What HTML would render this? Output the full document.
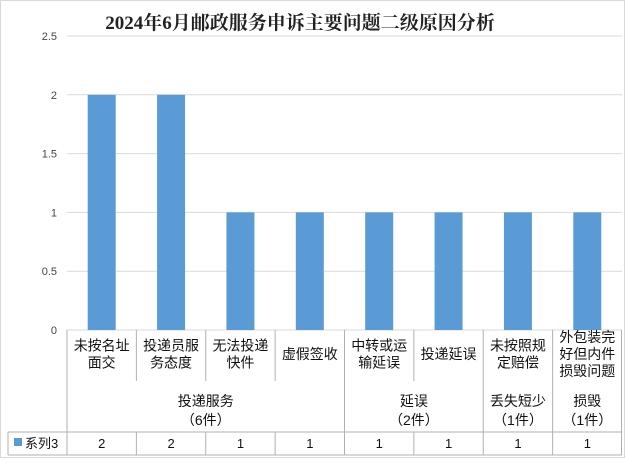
<!DOCTYPE html>
<html><head><meta charset="utf-8"><style>
body{margin:0;background:#fff}
svg text{font-family:"Liberation Sans","Noto Sans CJK SC",sans-serif;}
</style></head><body>
<svg width="625" height="458" viewBox="0 0 625 458">
<rect x="0.5" y="0.5" width="624" height="457" fill="#fff" stroke="#d9d9d9"/>
<text x="300" y="29" text-anchor="middle" font-size="19" font-weight="bold" fill="#222" style='font-family:"Liberation Serif","Noto Serif CJK SC",serif'>2024年6月邮政服务申诉主要问题二级原因分析</text>
<g id="grid"></g><g id="bars"></g><g id="table"></g>
</svg>
<script>
const categories=["未按名址|面交","投递员服|务态度","无法投递|快件","虚假签收","中转或运|输延误","投递延误","未按照规|定赔偿","外包装完|好但内件|损毁问题"];
const values=[2,2,1,1,1,1,1,1];
const ticks=[0,0.5,1,1.5,2,2.5];
const tickLabels=["0","0.5","1","1.5","2","2.5"];
const groupNames=["投递服务","延误","丢失短少","损毁"];
const groupCounts=["（6件）","（2件）","（1件）","（1件）"];
const groupSpans=[4,2,1,1];
const NS="http://www.w3.org/2000/svg";
const X0=67,X1=622,Y0=330,Y1=36,YMAX=2.5;
const cw=(X1-X0)/categories.length;
const y=v=>Y0-(v/YMAX)*(Y0-Y1);
const x=i=>X0+i*cw;
function mk(t,a,p){const e=document.createElementNS(NS,t);for(const k in a)e.setAttribute(k,a[k]);p.appendChild(e);return e;}
const grid=document.getElementById('grid'),bars=document.getElementById('bars'),tb=document.getElementById('table');
ticks.forEach((t,i)=>{
 const l=mk('line',{x1:X0,x2:X1,y1:y(t),y2:y(t),stroke:'#d9d9d9'},grid);
 
 
 const tx=mk('text',{x:57,y:y(t)+4,'text-anchor':'end','font-size':11,fill:'#444'},grid);
 tx.textContent=tickLabels[i];
 
 
});
values.forEach((v,i)=>{
 const r=mk('rect',{x:x(i)+cw/2-14,y:y(v),width:28,height:Y0-y(v),fill:'#5b9bd5'},bars);
 
 
});
const S='#b0b0b0';
function ln(a,b,c,d){mk('line',{x1:a,y1:b,x2:c,y2:d,stroke:S},tb);}
ln(X1-0.5,Y0,X1-0.5,455);ln(8,455,X1,455);ln(8,432,X1,432);ln(8,432,8,455);
ln(X0,Y0,X0,455);
let acc=0;const bounds=new Set();
groupSpans.forEach(g=>{acc+=g;bounds.add(acc);});
for(let i=1;i<categories.length;i++){
 if(bounds.has(i)) ln(x(i),Y0,x(i),455); else {ln(x(i),Y0,x(i),381);ln(x(i),432,x(i),455);}
}
categories.forEach((c,i)=>{
 const lines=c.split('|');const cx=x(i)+cw/2;
 const start=359-(lines.length-1)*8.5;
 lines.forEach((s,k)=>{
  const t=mk('text',{x:cx,y:start+k*17,'text-anchor':'middle','font-size':14,fill:'#111'},tb);
  t.textContent=s;
  
  
 });
 const vt=mk('text',{x:cx,y:448,'text-anchor':'middle','font-size':13,fill:'#111'},tb);
 vt.textContent=String(values[i]);
 
 
});
let s=0;
groupNames.forEach((n,gi)=>{
 const sp=groupSpans[gi];
 const cx=x(s)+sp*cw/2;s+=sp;
 [n,groupCounts[gi]].forEach((str,k)=>{
  const t=mk('text',{x:cx,y:406+k*19,'text-anchor':'middle','font-size':14,fill:'#111'},tb);
  t.textContent=str;
  
  
 });
});
const key=mk('rect',{x:14,y:438,width:8,height:8,fill:'#5b9bd5'},tb);


const lt=mk('text',{x:25,y:448,'font-size':13,fill:'#111'},tb);
lt.textContent='系列3';


</script>
</body></html>
